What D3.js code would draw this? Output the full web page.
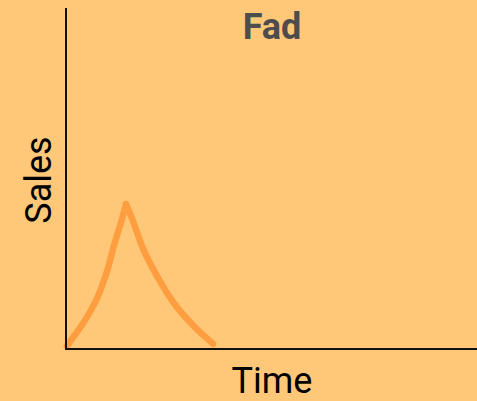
<!DOCTYPE html>
<html>
<head>
<meta charset="utf-8">
<script src="https://cdn.jsdelivr.net/npm/d3@7"></script>
<style>
  body { margin: 0; background: #FFC878; }
  svg { display: block; }
</style>
</head>
<body>
<script>
// time (0-100) vs sales (0-100)
const riseTime = [0.2, 4.2, 7.5, 9.9, 11.9, 13.6, 14.6]
const riseSales = [0.9, 7.6, 14.7, 22.5, 31.3, 38.1, 42.5]
const fallTime = [14.6, 16.4, 18.8, 22.1, 26.1, 31.0, 35.8]
const fallSales = [42.5, 37.2, 29.3, 21.5, 13.7, 6.8, 1.5]

const width = 477
const height = 401
const margin = { left: 66, top: 8, right: 0, bottom: 52 }

const svg = d3.select('body').append('svg')
  .attr('width', width)
  .attr('height', height)

svg.append('rect')
  .attr('width', width)
  .attr('height', height)
  .attr('fill', '#FFC878')

const x = d3.scaleLinear().domain([0, 100]).range([margin.left, width - margin.right])
const y = d3.scaleLinear().domain([0, 100]).range([height - margin.bottom, margin.top])

const line = d3.line()
  .x(d => x(d[0]))
  .y(d => y(d[1]))
  .curve(d3.curveCatmullRom.alpha(0.5))

const segments = [
  riseTime.map((t, i) => [t, riseSales[i]]),
  fallTime.map((t, i) => [t, fallSales[i]])
]

svg.selectAll('.curve')
  .data(segments)
  .enter().append('path')
  .attr('class', 'curve')
  .attr('d', line)
  .attr('fill', 'none')
  .attr('stroke', '#FF9E40')
  .attr('stroke-width', 6.5)
  .attr('stroke-linecap', 'round')
  .attr('stroke-linejoin', 'round')

// axes without ticks
svg.append('line')
  .attr('x1', x(0)).attr('x2', x(0))
  .attr('y1', y(100)).attr('y2', y(0))
  .attr('stroke', '#111').attr('stroke-width', 2)

svg.append('line')
  .attr('x1', x(0) - 1).attr('x2', x(100))
  .attr('y1', y(0)).attr('y2', y(0))
  .attr('stroke', '#111').attr('stroke-width', 2)

svg.append('text')
  .attr('x', 272)
  .attr('y', 39)
  .attr('text-anchor', 'middle')
  .style('font-family', 'Roboto, sans-serif')
  .style('font-weight', 700)
  .style('font-size', '36px')
  .style('fill', '#4D4D4D')
  .text('Fad')

svg.append('text')
  .attr('x', 272)
  .attr('y', 393)
  .attr('text-anchor', 'middle')
  .style('font-family', 'Roboto, sans-serif')
  .style('font-weight', 400)
  .style('font-size', '36px')
  .style('fill', '#000')
  .text('Time')

svg.append('text')
  .attr('transform', 'translate(51, 180) rotate(-90)')
  .attr('text-anchor', 'middle')
  .style('font-family', 'Roboto, sans-serif')
  .style('font-weight', 400)
  .style('font-size', '36px')
  .style('fill', '#000')
  .text('Sales')
</script>
</body>
</html>
